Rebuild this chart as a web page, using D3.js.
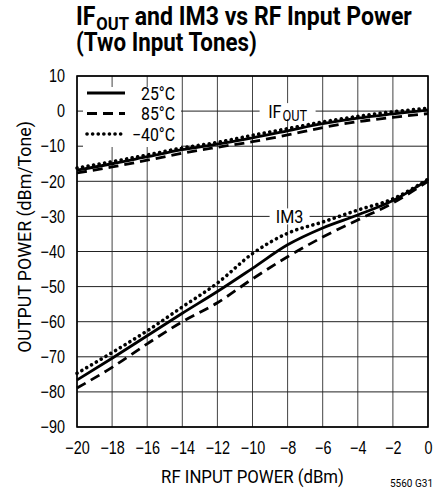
<!DOCTYPE html>
<html>
<head>
<meta charset="utf-8">
<script src="https://cdn.jsdelivr.net/npm/d3@7"></script>
<style>
  body { margin: 0; background: #fff; }
  svg { font-family: Roboto, 'Liberation Sans', sans-serif; }
</style>
</head>
<body>
<svg width="437" height="490"></svg>
<script>
// data
const inputPower = [-20, -18, -16, -14, -12, -10, -8, -6, -4, -2, 0];

const ifout25 = [-16.8, -15.0, -13.0, -11.0, -9.4, -7.6, -5.6, -3.6, -2.0, -0.8, 0.3];
const ifout85 = [-17.6, -15.9, -14.0, -12.0, -10.3, -8.7, -6.8, -4.7, -3.0, -1.8, -0.7];
const ifoutM40 = [-16.2, -14.4, -12.5, -10.5, -8.9, -6.9, -5.0, -3.1, -1.5, -0.2, 0.8];

const im3_25 = [-76.6, -70.4, -64.0, -57.6, -51.4, -44.8, -38.1, -33.3, -29.6, -25.5, -19.6];
const im3_85 = [-78.9, -73.0, -66.3, -60.0, -54.6, -47.8, -41.5, -35.9, -31.0, -26.2, -20.0];
const im3_M40 = [-74.7, -68.8, -62.6, -55.8, -49.0, -40.6, -34.8, -31.6, -28.2, -25.0, -19.4];

const legendLabels = ['25°C', '85°C', '−40°C'];
const xTicks = d3.range(-20, 1, 2);
const yTicks = d3.range(-90, 11, 10);

const svg = d3.select('svg');
const margin = { left: 77, top: 76 };
const width = 351, height = 351;

const x = d3.scaleLinear().domain([-20, 0]).range([0, width]);
const y = d3.scaleLinear().domain([-90, 10]).range([height, 0]);

// styles per temperature
const styles = [
  { dash: null, width: 2.8, cap: 'butt' },
  { dash: '10,6', width: 2.8, cap: 'butt' },
  { dash: '0.1,5.5', width: 3.6, cap: 'round' }
];

// no condensed font installed, so squeeze texts horizontally
function squeeze(sel, k) {
  sel.each(function() {
    const t = d3.select(this);
    const tx = +t.attr('x') || 0, ty = +t.attr('y') || 0;
    const tr = t.attr('transform') || '';
    t.attr('transform', `${tr} translate(${tx},${ty}) scale(${k},1)`)
      .attr('x', 0).attr('y', 0);
  });
}
function fitWidth(sel, w) {
  const k = w / sel.node().getBBox().width;
  squeeze(sel, k);
}

// title
const title = svg.append('text')
  .attr('x', 76).attr('y', 25)
  .attr('font-weight', 'bold')
  .attr('font-size', 25);
title.append('tspan').text('IF');
title.append('tspan').attr('font-size', 18).attr('dx', 1).attr('dy', 5).text('OUT');
title.append('tspan').attr('dy', -5).text(' and IM3 vs RF Input Power');
fitWidth(title, 336);

const title2 = svg.append('text')
  .attr('x', 76).attr('y', 51)
  .attr('font-weight', 'bold')
  .attr('font-size', 25)
  .text('(Two Input Tones)');
fitWidth(title2, 181);

const g = svg.append('g')
  .attr('transform', `translate(${margin.left},${margin.top})`);

// grid
g.append('g')
  .selectAll('line.v')
  .data(xTicks)
  .enter()
  .append('line')
    .attr('x1', d => x(d)).attr('x2', d => x(d))
    .attr('y1', 0).attr('y2', height)
    .attr('stroke', '#444')
    .attr('stroke-width', 1);

g.append('g')
  .selectAll('line.h')
  .data(yTicks)
  .enter()
  .append('line')
    .attr('x1', 0).attr('x2', width)
    .attr('y1', d => y(d)).attr('y2', d => y(d))
    .attr('stroke', '#222')
    .attr('stroke-width', 1);

// axes labels
const xAxis = g.append('g')
  .attr('transform', `translate(0,${height})`)
  .call(d3.axisBottom(x).tickValues(xTicks).tickSize(0).tickPadding(14));
const yAxis = g.append('g')
  .call(d3.axisLeft(y).tickValues(yTicks).tickSize(0).tickPadding(12));

[xAxis, yAxis].forEach(a => {
  a.select('.domain').remove();
  a.selectAll('text')
    .attr('font-family', null)
    .attr('font-size', 18)
    .attr('fill', '#000');
  squeeze(a.selectAll('text'), 0.8);
});

// lines
const line = d3.line()
  .x((d, i) => x(inputPower[i]))
  .y(d => y(d))
  .curve(d3.curveMonotoneX);

const series = [
  [ifout25, 0], [ifout85, 1], [ifoutM40, 2],
  [im3_25, 0], [im3_85, 1], [im3_M40, 2]
];

g.append('g')
  .selectAll('path')
  .data(series)
  .enter()
  .append('path')
    .attr('d', d => line(d[0]))
    .attr('fill', 'none')
    .attr('stroke', '#000')
    .attr('stroke-width', d => styles[d[1]].width)
    .attr('stroke-dasharray', d => styles[d[1]].dash)
    .attr('stroke-linecap', d => styles[d[1]].cap);

// border
g.append('rect')
  .attr('width', width).attr('height', height)
  .attr('fill', 'none')
  .attr('stroke', '#000')
  .attr('stroke-width', 1.6);

// legend
const legend = svg.append('g');
legend.append('rect')
  .attr('x', 83).attr('y', 87)
  .attr('width', 98).attr('height', 60)
  .attr('fill', '#fff');

const rows = legend.selectAll('g.row')
  .data(legendLabels)
  .enter()
  .append('g')
    .attr('transform', (d, i) => `translate(0,${93 + i * 20.5})`);

rows.append('line')
  .attr('x1', 87).attr('x2', 125)
  .attr('stroke', '#000')
  .attr('stroke-width', (d, i) => styles[i].width)
  .attr('stroke-dasharray', (d, i) => styles[i].dash)
  .attr('stroke-linecap', (d, i) => styles[i].cap);

const legendText = rows.append('text')
  .attr('x', 175).attr('y', 6.5)
  .attr('text-anchor', 'end')
  .attr('font-size', 18)
  .text(d => d);
squeeze(legendText, 0.88);

// curve labels
const ifLabel = g.append('g')
  .attr('transform', `translate(${x(-8)},${y(0)})`);
ifLabel.append('rect')
  .attr('x', -28).attr('y', -8).attr('width', 56).attr('height', 16)
  .attr('fill', '#fff');
const ifText = ifLabel.append('text')
  .attr('text-anchor', 'middle')
  .attr('y', 6.5)
  .attr('font-size', 19);
ifText.append('tspan').text('IF');
ifText.append('tspan').attr('font-size', 15).attr('dx', 1).attr('dy', 3).text('OUT');
squeeze(ifText, 0.85);

const imLabel = g.append('g')
  .attr('transform', `translate(${x(-8) + 2},${y(-30)})`);
imLabel.append('rect')
  .attr('x', -20).attr('y', -8).attr('width', 40).attr('height', 16)
  .attr('fill', '#fff');
const imText = imLabel.append('text')
  .attr('text-anchor', 'middle')
  .attr('y', 6.5)
  .attr('font-size', 19)
  .text('IM3');
squeeze(imText, 0.85);

// axis titles
const xTitle = svg.append('text')
  .attr('x', x(-10) + margin.left).attr('y', 483)
  .attr('text-anchor', 'middle')
  .attr('font-size', 18)
  .text('RF INPUT POWER (dBm)');
fitWidth(xTitle, 183);

const yTitle = svg.append('text')
  .attr('transform', 'translate(31,237) rotate(-90)')
  .attr('text-anchor', 'middle')
  .attr('font-size', 18)
  .text('OUTPUT POWER (dBm/Tone)');
fitWidth(yTitle, 232);

svg.append('text')
  .attr('x', 433).attr('y', 487)
  .attr('text-anchor', 'end')
  .attr('font-size', 10)
  .text('5560 G31');
</script>
</body>
</html>
